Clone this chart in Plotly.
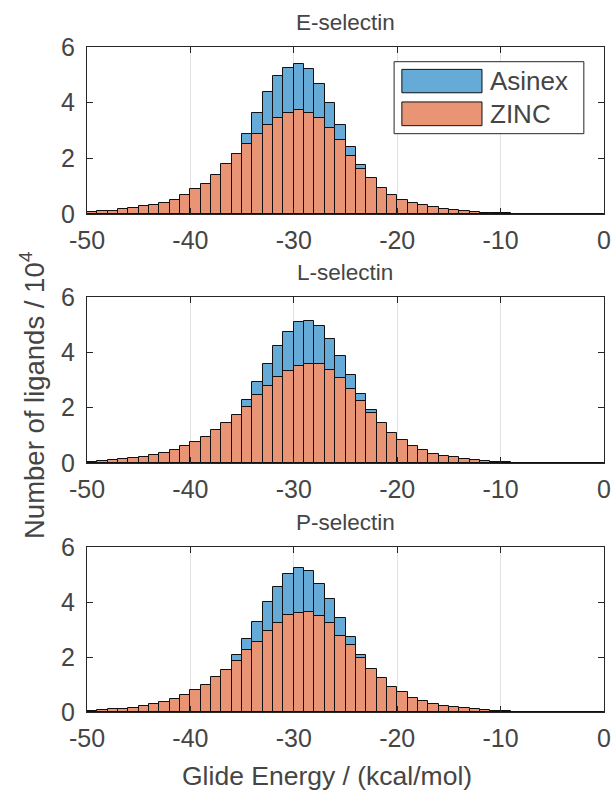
import numpy as np
import plotly.graph_objects as go

# Bin edges: -50 .. 0, width 1 (kcal/mol); values in units of 10^4 ligands
bin_edges = list(range(-50, 1))
titles = ["E-selectin", "L-selectin", "P-selectin"]
x_ticks = [-50, -40, -30, -20, -10, 0]
y_ticks = [0, 2, 4, 6]

zinc_E = [0.06, 0.10, 0.12, 0.17, 0.22, 0.28, 0.32, 0.41, 0.52, 0.68,
          0.89, 1.09, 1.39, 1.78, 2.14, 2.50, 2.86, 3.20, 3.44, 3.62,
          3.75, 3.63, 3.46, 3.08, 2.65, 2.10, 1.63, 1.29, 0.94, 0.67,
          0.50, 0.40, 0.31, 0.24, 0.18, 0.14, 0.11, 0.07, 0.05, 0.04,
          0.02, 0.015, 0.01, 0.01, 0.005, 0.005, 0.003, 0.002, 0.001, 0.001]
asinex_E = [0.02, 0.03, 0.04, 0.05, 0.07, 0.09, 0.12, 0.16, 0.22, 0.30,
            0.42, 0.60, 0.90, 1.35, 2.17, 2.89, 3.62, 4.37, 4.95, 5.26,
            5.38, 5.20, 4.67, 4.00, 3.18, 2.39, 1.77, 1.20, 0.80, 0.50,
            0.32, 0.20, 0.12, 0.08, 0.05, 0.03, 0.02, 0.01, 0.0, 0.0,
            0.0, 0.0, 0.0, 0.0, 0.0, 0.0, 0.0, 0.0, 0.0, 0.0]

zinc_L = [0.05, 0.08, 0.11, 0.14, 0.18, 0.23, 0.30, 0.37, 0.47, 0.60,
          0.77, 0.95, 1.19, 1.43, 1.73, 2.03, 2.45, 2.77, 3.11, 3.33,
          3.51, 3.59, 3.57, 3.35, 3.07, 2.66, 2.23, 1.81, 1.43, 1.08,
          0.83, 0.62, 0.46, 0.34, 0.26, 0.20, 0.14, 0.10, 0.07, 0.05,
          0.02, 0.015, 0.01, 0.01, 0.005, 0.005, 0.003, 0.002, 0.001, 0.001]
asinex_L = [0.02, 0.03, 0.04, 0.05, 0.07, 0.09, 0.12, 0.16, 0.22, 0.30,
            0.42, 0.58, 0.80, 1.10, 1.50, 2.29, 2.94, 3.59, 4.24, 4.74,
            5.11, 5.15, 4.95, 4.49, 3.88, 3.18, 2.51, 1.90, 1.30, 0.90,
            0.60, 0.40, 0.25, 0.15, 0.10, 0.06, 0.04, 0.02, 0.01, 0.0,
            0.0, 0.0, 0.0, 0.0, 0.0, 0.0, 0.0, 0.0, 0.0, 0.0]

zinc_P = [0.05, 0.07, 0.10, 0.12, 0.16, 0.21, 0.28, 0.38, 0.46, 0.61,
          0.80, 0.99, 1.27, 1.54, 1.87, 2.25, 2.56, 2.95, 3.22, 3.52,
          3.61, 3.65, 3.49, 3.22, 2.78, 2.42, 1.98, 1.57, 1.22, 0.91,
          0.73, 0.52, 0.39, 0.29, 0.22, 0.17, 0.13, 0.10, 0.06, 0.04,
          0.02, 0.015, 0.01, 0.01, 0.005, 0.005, 0.003, 0.002, 0.001, 0.001]
asinex_P = [0.02, 0.03, 0.04, 0.05, 0.07, 0.09, 0.12, 0.16, 0.22, 0.30,
            0.42, 0.60, 0.85, 1.20, 2.07, 2.65, 3.27, 3.99, 4.55, 5.03,
            5.22, 5.12, 4.67, 4.10, 3.41, 2.71, 2.08, 1.40, 1.00, 0.70,
            0.45, 0.30, 0.18, 0.11, 0.07, 0.04, 0.02, 0.01, 0.0, 0.0,
            0.0, 0.0, 0.0, 0.0, 0.0, 0.0, 0.0, 0.0, 0.0, 0.0]

panels = [(asinex_E, zinc_E), (asinex_L, zinc_L), (asinex_P, zinc_P)]

edges = np.array(bin_edges, dtype=float)
centers = (edges[:-1] + edges[1:]) / 2
widths = np.diff(edges)

W, H = 611, 792
FONT = "Liberation Sans, Arial, Helvetica, sans-serif"
TXT = "#454545"
AX = "#262626"
BLUE = "#66AAD7"
ORANGE = "#E89475"

# axes pixel boxes (top, bottom)
x_left, x_right = 87, 604
y_boxes = [(47, 214), (297, 463), (547, 712)]

fig = go.Figure()
for i, ((asx, zn), (ytop, ybot)) in enumerate(zip(panels, y_boxes)):
    k = "" if i == 0 else str(i + 1)
    fig.add_trace(go.Bar(x=centers, y=asx, width=widths, name="Asinex",
                         marker=dict(color=BLUE, line=dict(color="#111111", width=1)),
                         xaxis="x" + k, yaxis="y" + k, showlegend=False))
    fig.add_trace(go.Bar(x=centers, y=zn, width=widths, name="ZINC",
                         marker=dict(color=ORANGE, line=dict(color="#111111", width=1)),
                         xaxis="x" + k, yaxis="y" + k, showlegend=False))
    common = dict(showline=True, linecolor=AX, linewidth=1, mirror="ticks",
                  ticks="inside", ticklen=6, tickcolor=AX, tickwidth=1,
                  zeroline=False, automargin=False,
                  tickfont=dict(family=FONT, size=25, color=TXT))
    fig.update_layout(**{
        "xaxis" + k: dict(domain=[x_left / W, x_right / W], range=[-50, 0],
                          tickvals=x_ticks, ticktext=[str(v) for v in x_ticks],
                          showgrid=True, gridcolor="#E2E2E2",
                          gridwidth=1, anchor="y" + k, ticklabelstandoff=4,
                          **common),
        "yaxis" + k: dict(domain=[1 - ybot / H, 1 - ytop / H], range=[0, 6],
                          tickvals=y_ticks, ticktext=[str(v) for v in y_ticks],
                          showgrid=False, anchor="x" + k,
                          ticklabelstandoff=6, **common),
    })
    fig.add_annotation(text=titles[i], xref="paper", yref="paper",
                       x=(x_left + x_right) / 2 / W, y=1 - (ytop - 25) / H,
                       showarrow=False, xanchor="center", yanchor="middle",
                       font=dict(family=FONT, size=22.5, color=TXT))

# custom legend in top panel
legend_items = [("Asinex", BLUE), ("ZINC", ORANGE)]
fig.add_shape(type="rect", xref="x domain", yref="y domain",
              x0=0.594, x1=0.961, y0=0.481, y1=0.912,
              line=dict(color=AX, width=1), fillcolor="white", layer="above")
sw_rows = [(0.726, 0.866), (0.529, 0.671)]
for (lab, col), (y0, y1) in zip(legend_items, sw_rows):
    fig.add_shape(type="rect", xref="x domain", yref="y domain",
                  x0=0.609, x1=0.764, y0=y0, y1=y1,
                  line=dict(color="#111111", width=1), fillcolor=col, layer="above")
    fig.add_annotation(text=lab, xref="x domain", yref="y domain",
                       x=0.776, y=(y0 + y1) / 2, xanchor="left", yanchor="middle",
                       showarrow=False, font=dict(family=FONT, size=26, color=TXT))

fig.add_annotation(text="Glide Energy / (kcal/mol)", xref="paper", yref="paper",
                   x=327 / W, y=1 - 776 / H, showarrow=False,
                   xanchor="center", yanchor="middle",
                   font=dict(family=FONT, size=26.5, color=TXT))
fig.add_annotation(text="Number of ligands / 10<sup>4</sup>", xref="paper", yref="paper",
                   x=32 / W, y=1 - 395 / H, showarrow=False, textangle=-90,
                   xanchor="center", yanchor="middle",
                   font=dict(family=FONT, size=27.5, color=TXT))

fig.update_layout(width=W, height=H, barmode="overlay", bargap=0,
                  margin=dict(l=0, r=0, t=0, b=0),
                  plot_bgcolor="white", paper_bgcolor="white")
fig.write_html("out.html", config={"displayModeBar": False},
               post_script="document.body.style.margin='0';"
                           "document.body.style.overflow='hidden';")
